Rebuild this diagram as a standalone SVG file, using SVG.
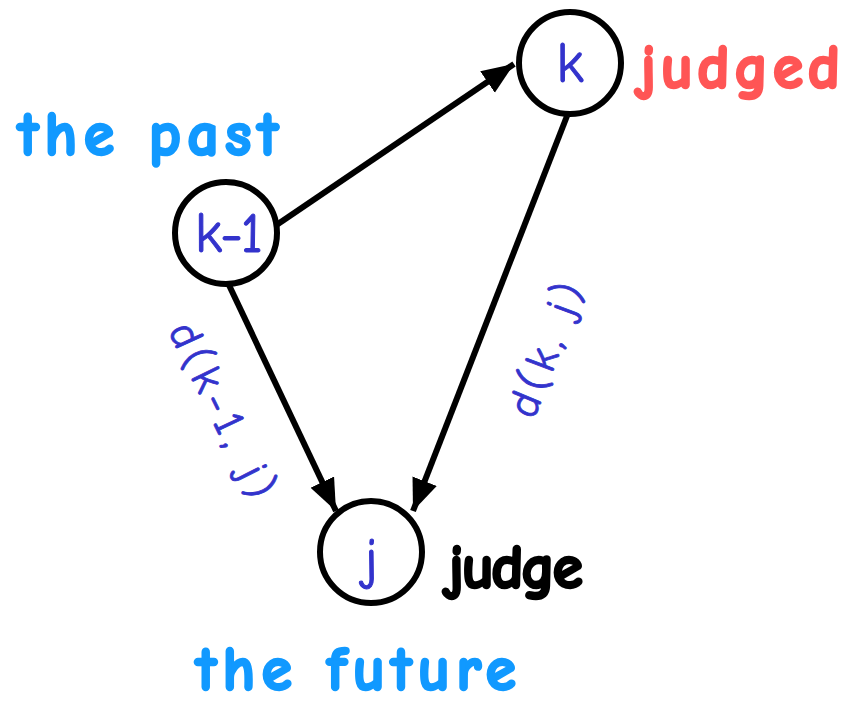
<svg xmlns="http://www.w3.org/2000/svg" width="861" height="706" viewBox="0 0 861 706">
<defs>
<style>
.node{fill:#fff;stroke:#000;stroke-width:6}
.edge{stroke:#000;stroke-width:6;fill:none}
.nl{font-family:"Comic Sans MS","Comic Neue","DejaVu Sans",sans-serif;font-size:56px;fill:#3333cc;stroke:#3333cc;stroke-width:1;text-anchor:middle}
.el{font-family:"Comic Sans MS","Comic Neue","DejaVu Sans",sans-serif;font-size:44px;fill:#3333cc;stroke:#3333cc;stroke-width:0.8;text-anchor:middle}
.big{font-family:"Comic Sans MS","Comic Neue","DejaVu Sans",sans-serif;font-weight:bold;font-size:62px;stroke-width:2.5}
</style>
<marker id="ah" markerUnits="userSpaceOnUse" markerWidth="34" markerHeight="28" refX="32" refY="13" orient="auto">
<path d="M0,0 L32,13 L0,26 z" fill="#000"/>
</marker>
</defs>
<g id="connectors">
<line class="edge" x1="275" y1="226" x2="514" y2="64" marker-end="url(#ah)"/>
<line class="edge" x1="228" y1="283" x2="336" y2="511" marker-end="url(#ah)"/>
<line class="edge" x1="567" y1="116" x2="413" y2="511" marker-end="url(#ah)"/>
<text class="el" transform="translate(222,410) rotate(64)" dy="14" textLength="190">d(k-1, j)</text>
<text class="el" transform="translate(546,350) rotate(-69)" dy="14" textLength="140">d(k, j)</text>
</g>
<g id="node-k1">
<circle class="node" cx="226" cy="233" r="51"/>
<text class="nl" x="229" y="252" textLength="68">k-1</text>
</g>
<g id="node-k">
<circle class="node" cx="570" cy="63" r="51"/>
<text class="nl" x="570" y="82">k</text>
</g>
<g id="node-j">
<circle class="node" cx="371" cy="552" r="51"/>
<text class="nl" x="371" y="578">j</text>
</g>
<g id="labels">
<text class="big" x="18" y="155" fill="#1199ff" stroke="#1199ff" textLength="260">the past</text>
<text class="big" x="640" y="88" fill="#ff5555" stroke="#ff5555" textLength="200">judged</text>
<text class="big" x="196" y="690" fill="#1199ff" stroke="#1199ff" font-size="58" textLength="320">the future</text>
<text class="big" x="448" y="588" fill="#000" stroke="#000" font-size="46" textLength="135">judge</text>
</g>
</svg>
